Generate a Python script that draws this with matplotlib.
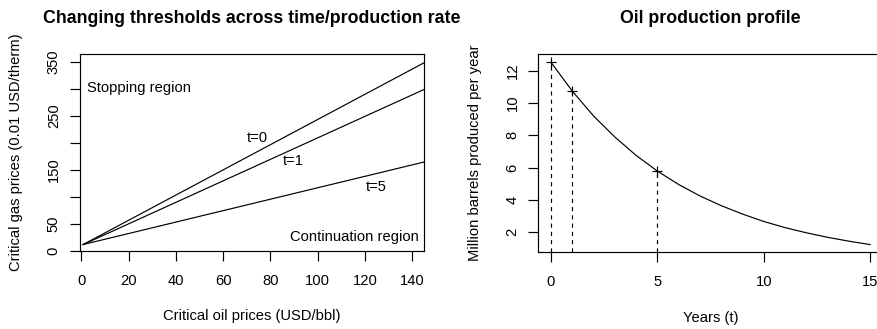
import matplotlib
matplotlib.use("Agg")
import matplotlib.pyplot as plt

plt.rcParams['font.family'] = ['Liberation Sans', 'DejaVu Sans']

# --- left panel: critical price thresholds (straight lines) ---
oil_prices = [0.7, 145.1]
gas_t0 = [12, 349]
gas_t1 = [12, 299.5]
gas_t5 = [12, 165]

left_xticks = [0, 20, 40, 60, 80, 100, 120, 140]
left_yticks = [0, 50, 100, 150, 200, 250, 300, 350]
left_ylabels = ['0', '50', '', '150', '', '250', '', '350']

# --- right panel: production profile ---
years = list(range(16))
production = [12.52, 10.74, 9.20, 7.90, 6.76, 5.79, 4.96, 4.25,
              3.65, 3.13, 2.67, 2.29, 1.97, 1.69, 1.45, 1.24]
marked_years = [0, 1, 5]
marked_prod = [12.52, 10.74, 5.79]

right_xticks = [0, 5, 10, 15]
right_yticks = [2, 4, 6, 8, 10, 12]

fs = 10.6
lw = 0.85

fig = plt.figure(figsize=(8.78, 3.29), dpi=100)
ax1 = fig.add_axes([0.0906, 0.2362, 0.3927, 0.5997])
ax2 = fig.add_axes([0.6131, 0.2331, 0.3924, 0.6027])

for ax in (ax1, ax2):
    for s in ax.spines.values():
        s.set_linewidth(lw)
    ax.tick_params(direction='out', length=7, width=lw, labelsize=fs)
    ax.tick_params(axis='x', pad=9.5)
    ax.tick_params(axis='y', pad=6.5)

# left
ax1.plot(oil_prices, gas_t0, color='black', lw=lw)
ax1.plot(oil_prices, gas_t1, color='black', lw=lw)
ax1.plot(oil_prices, gas_t5, color='black', lw=lw)
ax1.set_xlim(-0.8, 145.1)
ax1.set_ylim(-0.5, 365)
ax1.set_xticks(left_xticks)
ax1.set_yticks(left_yticks)
ax1.set_yticklabels(left_ylabels)
ax1.text(2.2, 302, 'Stopping region', fontsize=fs, va='center', ha='left')
ax1.text(142.6, 26.5, 'Continuation region', fontsize=fs, va='center', ha='right')
ax1.text(74.6, 210, 't=0', fontsize=fs, va='center', ha='center')
ax1.text(89.7, 167, 't=1', fontsize=fs, va='center', ha='center')
ax1.text(124.7, 118, 't=5', fontsize=fs, va='center', ha='center')
ax1.set_title('Changing thresholds across time/production rate',
              fontsize=12.8, fontweight='bold', pad=22)
ax1.set_xlabel('Critical oil prices (USD/bbl)', fontsize=fs)
ax1.set_ylabel('Critical gas prices (0.01 USD/therm)', fontsize=fs)

# right
ax2.plot(years, production, color='black', lw=lw)
ax2.plot(marked_years, marked_prod, linestyle='none', marker='+',
         color='black', markersize=7.5, mew=lw)
ax2.set_ylim(0.76, 13.04)
ax2.set_xlim(-0.6, 15.6)
ax2.vlines(marked_years, 0.76, marked_prod, colors='black',
           linestyles=(0, (3.5, 3.5)), lw=lw)
ax2.set_xticks(right_xticks)
ax2.set_yticks(right_yticks)
ax2.set_title('Oil production profile', fontsize=12.8, fontweight='bold', pad=22)
ax2.set_xlabel('Years (t)', fontsize=fs)
ax2.set_ylabel('Million barrels produced per year', fontsize=fs)

for ax in (ax1, ax2):
    for lab in ax.get_yticklabels():
        lab.set_rotation(90)
        lab.set_va('center')
    ax.xaxis.set_label_coords(0.5, -0.33)
    ax.xaxis.label.set_va('center')
    ax.yaxis.set_label_coords(-0.184, 0.5)
    ax.yaxis.label.set_va('center')

fig.savefig('out.png', dpi=100)
